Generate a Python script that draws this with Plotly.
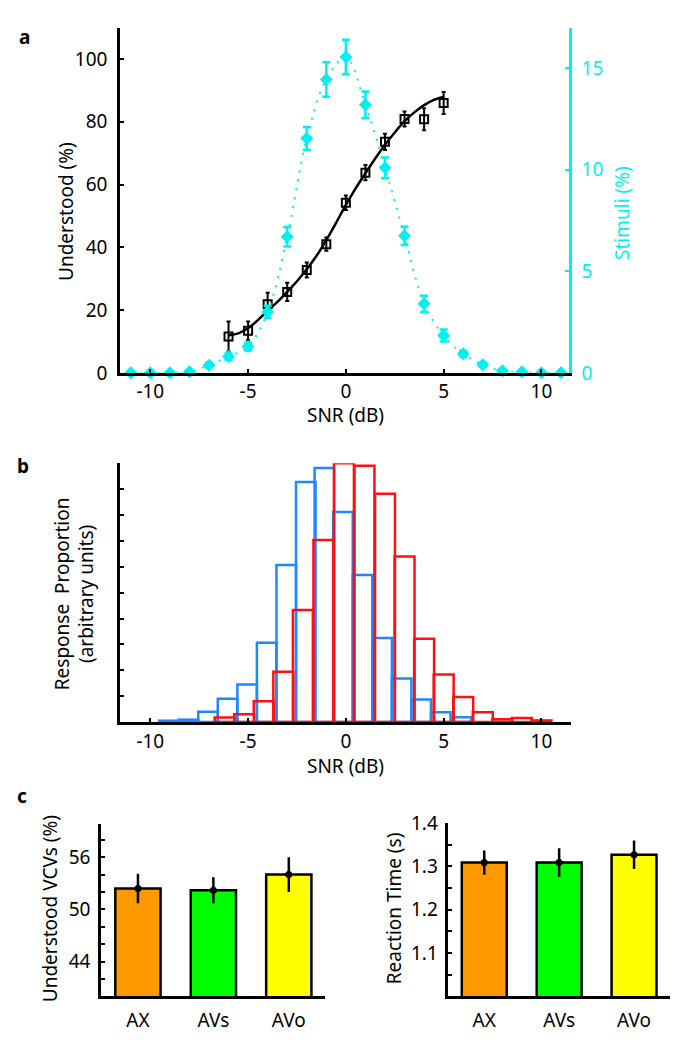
import plotly.graph_objects as go

W, H = 690, 1050
FONT = "Noto Sans"
CYAN = "#00F0F0"

# ---- panel a : understood (%) and stimuli (%) vs SNR
snr_pts = [-6, -5, -4, -3, -2, -1, 0, 1, 2, 3, 4, 5]
understood = [11.6, 13.4, 21.9, 25.8, 32.8, 41.0, 54.2, 63.8, 73.6, 80.9, 80.8, 86.0]
understood_err = [4.8, 3.0, 3.6, 2.9, 2.4, 2.1, 2.3, 2.4, 2.6, 2.4, 3.5, 3.5]

fit_snr = [-6, -5.5, -5, -4.5, -4, -3.5, -3, -2.5, -2, -1.5, -1, -0.5,
           0, 0.5, 1, 1.5, 2, 2.5, 3, 3.5, 4, 4.5, 5]
fit_understood = [12.0, 12.6, 14.2, 16.8, 19.8, 22.6, 25.8, 29.2, 33.0, 37.3, 42.3, 47.8,
                  53.5, 58.8, 63.6, 68.3, 72.7, 76.6, 80.2, 83.0, 85.3, 87.0, 88.0]

stim_snr = [-11, -10, -9, -8, -7, -6, -5, -4, -3, -2, -1, 0, 1, 2, 3, 4, 5, 6, 7, 8, 9, 10, 11]
stimuli = [0, 0, 0, 0.05, 0.38, 0.8, 1.3, 3.0, 6.7, 11.55, 14.45, 15.55,
           13.2, 10.1, 6.75, 3.4, 1.84, 0.94, 0.4, 0.1, 0.05, 0, 0]
stimuli_err = [0, 0, 0, 0, 0.1, 0.15, 0.2, 0.3, 0.48, 0.56, 0.85, 0.85,
               0.65, 0.5, 0.45, 0.4, 0.3, 0.15, 0.1, 0, 0, 0, 0]

# ---- panel b : response histograms
blue_bins = [-9.05, -8.05, -7.05, -6.05, -5.05, -4.05, -3.05, -2.05, -1.1, -0.15,
             0.85, 1.85, 2.85, 3.85, 4.85, 5.9]
blue_counts = [0.05, 0.09, 0.4, 0.9, 1.45, 3.06, 6.07, 9.28, 9.82, 8.12,
               5.68, 3.25, 1.68, 0.87, 0.38, 0.18]
red_bins = [-6.2, -5.2, -4.2, -3.2, -2.2, -1.15, -0.1, 0.95, 2.0, 3.0,
            4.0, 5.0, 6.0, 7.0, 8.0, 9.0, 10.0]
red_counts = [0.17, 0.3, 0.8, 1.94, 4.33, 7.03, 10.0, 9.9, 8.82, 6.4,
              3.22, 1.84, 0.97, 0.38, 0.11, 0.15, 0.06]

# ---- panel c : bars
conds = ["AX", "AVs", "AVo"]
bar_colors = ["#FF9900", "#00FF00", "#FFFF00"]
vcv = [52.4, 52.2, 54.0]
vcv_err = [1.7, 1.5, 2.0]
rt = [1.309, 1.309, 1.327]
rt_err = [0.028, 0.033, 0.033]

vcv_ticks = [42, 44, 46, 48, 50, 52, 54, 56, 58]
vcv_ticktext = ["", "44", "", "", "50", "", "", "56", ""]
rt_ticks = [1.05, 1.1, 1.15, 1.2, 1.25, 1.3, 1.35, 1.4]
rt_ticktext = ["", "1.1", "", "1.2", "", "1.3", "", "1.4"]


def fx(p):
    return p / W


def fy(p):
    return 1 - p / H


fig = go.Figure()

# a: cyan stimuli distribution (right axis)
fig.add_trace(go.Scatter(
    x=stim_snr, y=stimuli, xaxis="x", yaxis="y2", mode="lines+markers",
    line=dict(color=CYAN, width=2, dash="2px,7px", shape="spline"),
    marker=dict(symbol="diamond", size=10, color=CYAN),
    error_y=dict(type="data", array=stimuli_err, color=CYAN, thickness=2.5, width=4),
    cliponaxis=False, showlegend=False))
# a: fitted curve
fig.add_trace(go.Scatter(
    x=fit_snr, y=fit_understood, xaxis="x", yaxis="y", mode="lines",
    line=dict(color="black", width=2.5, shape="spline"), showlegend=False))
# a: understood points
fig.add_trace(go.Scatter(
    x=snr_pts, y=understood, xaxis="x", yaxis="y", mode="markers",
    marker=dict(symbol="square-open", size=8, color="black", line=dict(width=2)),
    error_y=dict(type="data", array=understood_err, color="black", thickness=2, width=2),
    showlegend=False))

# b: histograms
fig.add_trace(go.Bar(
    x=blue_bins, y=blue_counts, xaxis="x2", yaxis="y3", width=1.0,
    marker=dict(color="rgba(0,0,0,0)", line=dict(color="#1E88FF", width=2.5)),
    showlegend=False))
fig.add_trace(go.Bar(
    x=red_bins, y=red_counts, xaxis="x2", yaxis="y3", width=1.02,
    marker=dict(color="rgba(0,0,0,0)", line=dict(color="#FF1010", width=2.5)),
    showlegend=False))

# c: bars with error bars
for xa, ya, vals, errs in [("x3", "y4", vcv, vcv_err), ("x4", "y5", rt, rt_err)]:
    fig.add_trace(go.Bar(
        x=conds, y=vals, xaxis=xa, yaxis=ya, width=0.6,
        marker=dict(color=bar_colors, line=dict(color="black", width=2.5)),
        showlegend=False))
    fig.add_trace(go.Scatter(
        x=conds, y=vals, xaxis=xa, yaxis=ya, mode="markers",
        marker=dict(symbol="circle", size=7, color="black"),
        error_y=dict(type="data", array=errs, color="black", thickness=2.5, width=0),
        showlegend=False))

ax = dict(showline=True, linecolor="black", linewidth=2.5, ticks="inside",
          tickcolor="black", tickwidth=2, ticklen=4, showgrid=False, zeroline=False,
          tickfont=dict(family=FONT, size=19, color="black"))

fig.update_layout(
    width=W, height=H, margin=dict(l=0, r=0, t=0, b=0),
    paper_bgcolor="white", plot_bgcolor="white", barmode="overlay",
    xaxis=dict(ax, domain=[fx(120), fx(569)], range=[-11.55, 11.41], anchor="y",
               tickvals=[-10, -5, 0, 5, 10], ticktext=["-10", "-5", "0", "5", "10"]),
    yaxis=dict(ax, domain=[fy(369), fy(15)], range=[0, 110], anchor="x",
               tickvals=[0, 20, 40, 60, 80, 100], ticklabelstandoff=6),
    yaxis2=dict(ax, domain=[fy(369), fy(15)], range=[0, 17], anchor="x",
                overlaying="y", side="right", linecolor=CYAN, tickcolor=CYAN,
                tickvals=[0, 5, 10, 15], ticklabelstandoff=6,
                tickfont=dict(family=FONT, size=19, color=CYAN)),
    xaxis2=dict(ax, domain=[fx(120), fx(571)], range=[-11.55, 11.51], anchor="y3",
                tickvals=[-10, -5, 0, 5, 10], ticktext=["-10", "-5", "0", "5", "10"]),
    yaxis3=dict(ax, domain=[fy(727), fy(461.7)], range=[0, 10], anchor="x2",
                tickvals=list(range(11)), showticklabels=False),
    xaxis3=dict(ax, domain=[fx(101), fx(325)], range=[-0.49, 2.48], anchor="y4",
                ticks="", type="category", ticklabelstandoff=5),
    yaxis4=dict(ax, domain=[fy(1008.3), fy(831.7)], range=[40, 59.8], anchor="x3",
                tickvals=vcv_ticks, ticktext=vcv_ticktext, ticklabelstandoff=4),
    xaxis4=dict(ax, domain=[fx(448.3), fx(670)], range=[-0.48, 2.48], anchor="y5",
                ticks="", type="category", ticklabelstandoff=5),
    yaxis5=dict(ax, domain=[fy(1008.3), fy(830.7)], range=[1.0, 1.4], anchor="x4",
                tickvals=rt_ticks, ticktext=rt_ticktext, ticklabelstandoff=4),
)

def label(text, x, y, size=19, color="black", angle=0, bold=False):
    if bold:
        text = "<b>" + text + "</b>"
    fig.add_annotation(text=text, x=fx(x), y=fy(y), xref="paper", yref="paper",
                       showarrow=False, textangle=angle, xanchor="center", yanchor="middle",
                       font=dict(family=FONT, size=size, color=color))

label("a", 24, 25, size=19, bold=True)
label("b", 23, 465, size=19, bold=True)
label("c", 22, 803, size=19, bold=True)
label("Understood (%)", 66, 204, angle=-90)
label("Stimuli (%)", 622, 205, color=CYAN, angle=-90)
label("SNR (dB)", 345, 412)
label("Response  Proportion<br>(arbitrary units)", 74, 596, angle=-90)
label("SNR (dB)", 345, 772)
label("Understood VCVs (%)", 50, 919, angle=-90)
label("Reaction Time (s)", 394, 918, angle=-90)

# drop the default page margin so the figure sits at the window origin
fig.write_html("out.html", config={"displayModeBar": False},
               post_script="document.body.style.margin='0';document.body.style.overflow='hidden';")
